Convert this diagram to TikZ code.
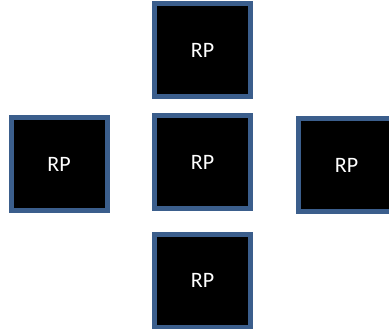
\documentclass[tikz,border=0pt]{standalone}
\usepackage{fontspec}
\setmainfont{Carlito}
\usepackage{xcolor}
\definecolor{rpedge}{HTML}{3B5E8C}

\begin{document}
\begin{tikzpicture}[x=1pt, y=-1pt,
    rpbox/.style={draw=rpedge, line width=5pt, fill=black, text=white,
      minimum width=96pt, minimum height=93pt, inner sep=0pt,
      font=\fontsize{22}{26}\selectfont}]
        \useasboundingbox (0,0) rectangle (389,329);
        \node[rpbox] (rptop) at (202.5,50.5) {RP};
        \node[rpbox] (rpmid) at (202.5,162.5) {RP};
        \node[rpbox] (rpleft) at (59,164.5) {RP};
        \node[rpbox] (rpright) at (346.5,165.5) {RP};
        \node[rpbox] (rpbottom) at (202.5,280.5) {RP};
      \end{tikzpicture}
\end{document}
